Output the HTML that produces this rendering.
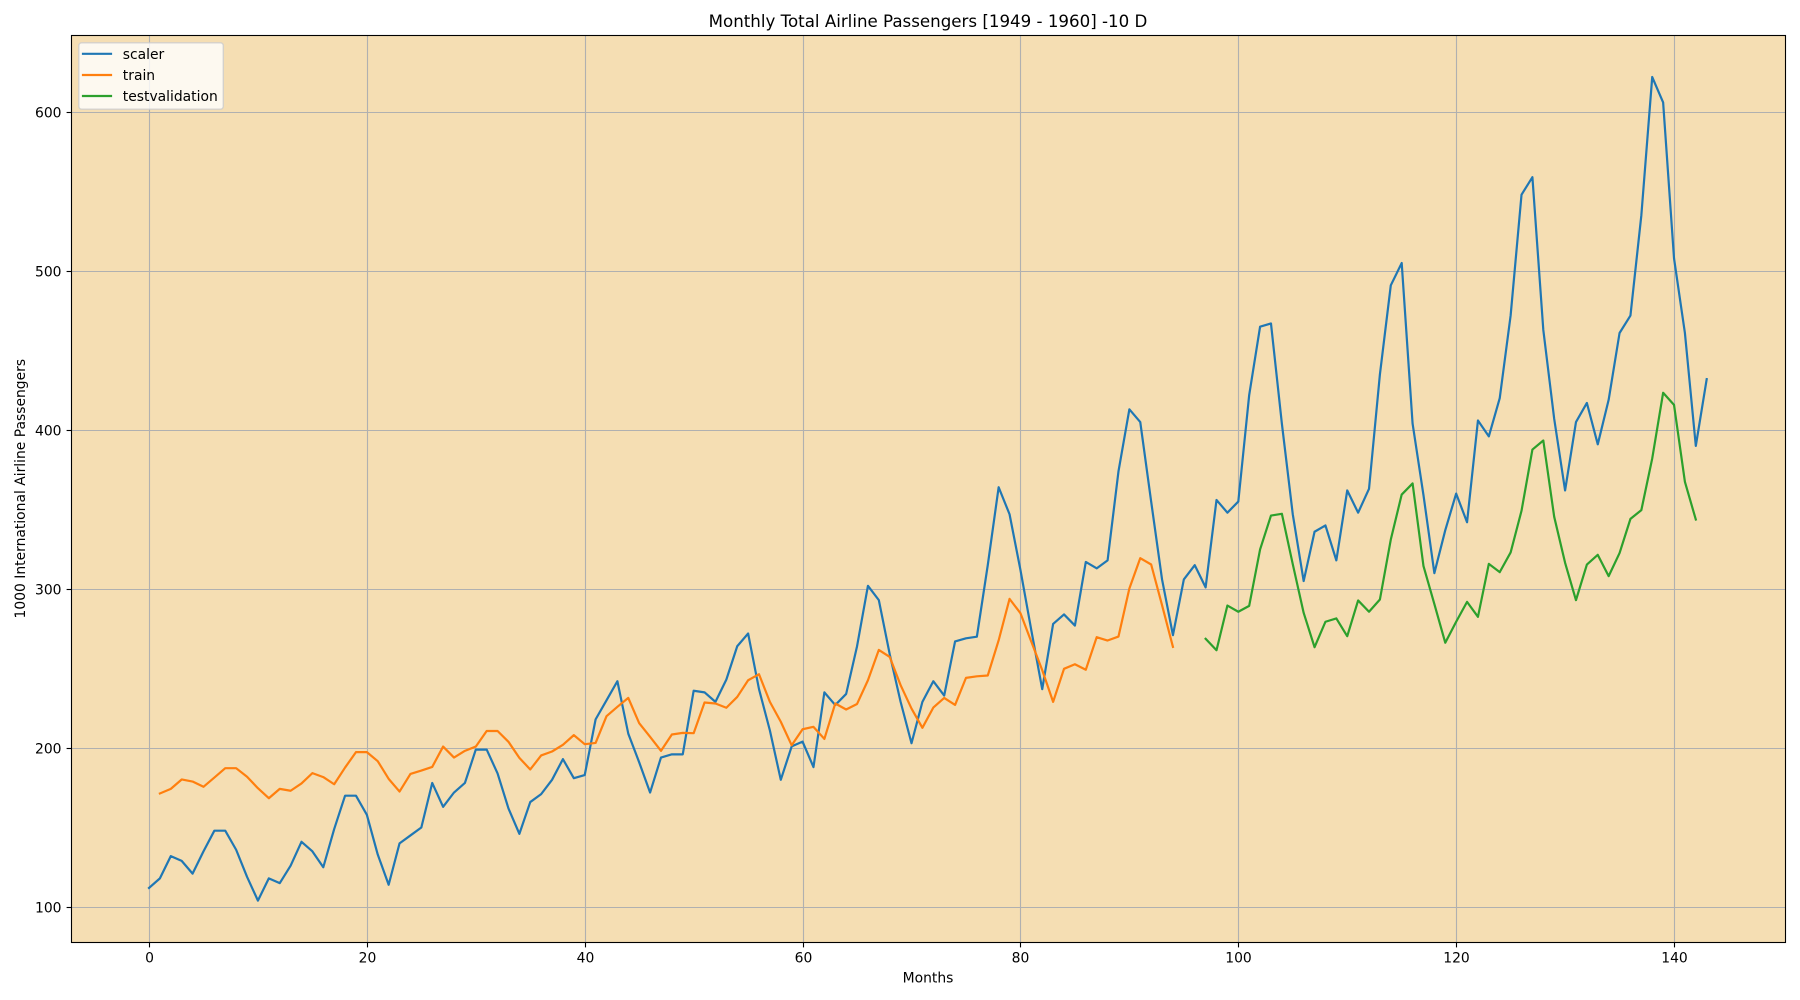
<!DOCTYPE html>
<html lang="en">
<head>
<meta charset="utf-8">
<title>Monthly Total Airline Passengers</title>
<style>
  html, body { margin: 0; padding: 0; background: #fff; }
  svg { display: block; }
  text { font-family: "DejaVu Sans", "Liberation Sans", sans-serif; fill: #000; }
</style>
</head>
<body>
<svg id="chart" xmlns="http://www.w3.org/2000/svg" width="1800" height="1000" viewBox="0 0 1800 1000">
  <rect x="0" y="0" width="1800" height="1000" fill="#ffffff"/>
  <rect x="71.5" y="35.5" width="1714" height="907" fill="#f5deb3"/>
  <g id="grid"></g>
  <g id="series"></g>
  <g id="ticks"></g>
  <rect x="71.5" y="35.5" width="1714" height="907" fill="none" stroke="#000" stroke-width="1.11"/>

  <text x="928" y="27" font-size="16.67" text-anchor="middle">Monthly Total Airline Passengers [1949 - 1960] -10 D</text>
  <text x="928" y="982.3" font-size="13.89" text-anchor="middle">Months</text>
  <text x="0" y="0" font-size="13.89" text-anchor="middle" transform="translate(25.2 488.7) rotate(-90)">1000 International Airline Passengers</text>

  <g>
    <rect x="78.8" y="42.8" width="144.5" height="66.4" rx="2.8" ry="2.8" fill="#ffffff" fill-opacity="0.8" stroke="#cccccc" stroke-opacity="0.8" stroke-width="1.39"/>
    <g>
      <line x1="83" y1="53.8" x2="111" y2="53.8" stroke="#1f77b4" stroke-width="2.2" stroke-linecap="square"/>
      <text x="122.8" y="58.9" font-size="13.89">scaler</text>
    </g>
    <g>
      <line x1="83" y1="75" x2="111" y2="75" stroke="#ff7f0e" stroke-width="2.2" stroke-linecap="square"/>
      <text x="122.8" y="80" font-size="13.89">train</text>
    </g>
    <g>
      <line x1="83" y1="96" x2="111" y2="96" stroke="#2ca02c" stroke-width="2.2" stroke-linecap="square"/>
      <text x="122.8" y="101.1" font-size="13.89">testvalidation</text>
    </g>
  </g>
</svg>
<script>
const xTicks = [0, 20, 40, 60, 80, 100, 120, 140];
const yTicks = [100, 200, 300, 400, 500, 600];

const scalerStart = 0;
const scalerValues = [112,118,132,129,121,135,148,148,136,119,104,118,115,126,141,135,125,149,170,170,158,133,114,140,145,150,178,163,172,178,199,199,184,162,146,166,171,180,193,181,183,218,230,242,209,191,172,194,196,196,236,235,229,243,264,272,237,211,180,201,204,188,235,227,234,264,302,293,259,229,203,229,242,233,267,269,270,315,364,347,312,274,237,278,284,277,317,313,318,374,413,405,355,306,271,306,315,301,356,348,355,422,465,467,404,347,305,336,340,318,362,348,363,435,491,505,404,359,310,337,360,342,406,396,420,472,548,559,463,407,362,405,417,391,419,461,472,535,622,606,508,461,390,432];

const trainStart = 1;
const trainValues = [171.4,174.3,180.2,178.9,175.6,181.4,187.3,187.3,181.9,174.7,168.4,174.3,173.1,177.7,184.2,181.7,177.2,187.7,197.4,197.4,191.7,180.6,172.6,183.7,185.8,188.1,200.9,194,198.2,200.9,210.7,210.7,203.9,193.8,186.5,195.3,197.8,202,208.1,202.4,203.2,220,225.9,231.5,215.6,207,198.2,208.5,209.5,209.3,228.6,228,225.3,232.1,242.6,246.4,229,216.5,201.7,211.8,213.3,205.7,228,224.2,227.7,242.6,261.7,257.3,239.5,224.8,212.7,225.4,231.5,227.1,244.1,245.1,245.6,267.7,293.8,284.8,266.8,249,229,249.8,252.7,249.2,269.7,267.6,270.1,300.3,319.4,315.4,289.8,263.6];

const testStart = 97;
const testValues = [268.7,261.5,289.6,285.7,289.4,324.9,346.2,347.3,315.6,285,263.4,279.4,281.5,270.3,292.8,285.7,293.4,331.1,359.4,366.4,314.4,290.5,266.2,279.4,291.9,282.5,315.8,310.6,323,349.2,387.7,393.4,345.4,316.5,293,315.4,321.5,308.1,322.6,344.1,349.6,382.1,423.4,415.8,367.4,343.7];

const SVG_NS = 'http://www.w3.org/2000/svg';

function xScale(v) {
  return 149.0 + v * 10.893;
}
function yScale(v) {
  return 907.0 - (v - 100) * 1.59;
}
function snap(p) {
  return Math.round(p) + 0.5;
}
function make(tag, attrs) {
  const el = document.createElementNS(SVG_NS, tag);
  Object.keys(attrs).forEach(function (k) { el.setAttribute(k, attrs[k]); });
  return el;
}

const gridGroup = document.getElementById('grid');
const ticksGroup = document.getElementById('ticks');
const seriesGroup = document.getElementById('series');

xTicks.forEach(function (t) {
  const px = snap(xScale(t));
  const gridLine = make('line', { x1: px, x2: px, y1: 35.5, y2: 942.5, stroke: '#b0b0b0', 'stroke-width': 1.11 });
  
  
  gridGroup.appendChild(gridLine);

  const tick = make('line', { x1: px, x2: px, y1: 942.5, y2: 947.4, stroke: '#000', 'stroke-width': 1.11 });
  
  
  ticksGroup.appendChild(tick);

  const label = make('text', { x: px, y: 962.3, 'font-size': 13.89, 'text-anchor': 'middle' });
  
  
  label.textContent = String(t);
  ticksGroup.appendChild(label);
});

yTicks.forEach(function (t) {
  const py = snap(yScale(t));
  const gridLine = make('line', { x1: 71.5, x2: 1785.5, y1: py, y2: py, stroke: '#b0b0b0', 'stroke-width': 1.11 });
  
  
  gridGroup.appendChild(gridLine);

  const tick = make('line', { x1: 66.6, x2: 71.5, y1: py, y2: py, stroke: '#000', 'stroke-width': 1.11 });
  
  
  ticksGroup.appendChild(tick);

  const label = make('text', { x: 61.5, y: py + 5, 'font-size': 13.89, 'text-anchor': 'end' });
  
  
  label.textContent = String(t);
  ticksGroup.appendChild(label);
});

function seriesPoints(values, start) {
  return values.map(function (v, i) {
    return xScale(start + i).toFixed(2) + ',' + yScale(v).toFixed(2);
  }).join(' ');
}
function seriesLine(values, start, color) {
  return make('polyline', {
    points: seriesPoints(values, start),
    fill: 'none',
    stroke: color,
    'stroke-width': 2.2,
    'stroke-linejoin': 'round',
    'stroke-linecap': 'square'
  });
}

const scalerLine = seriesLine(scalerValues, scalerStart, '#1f77b4');


seriesGroup.appendChild(scalerLine);

const trainLine = seriesLine(trainValues, trainStart, '#ff7f0e');


seriesGroup.appendChild(trainLine);

const testLine = seriesLine(testValues, testStart, '#2ca02c');


seriesGroup.appendChild(testLine);
</script>
</body>
</html>
